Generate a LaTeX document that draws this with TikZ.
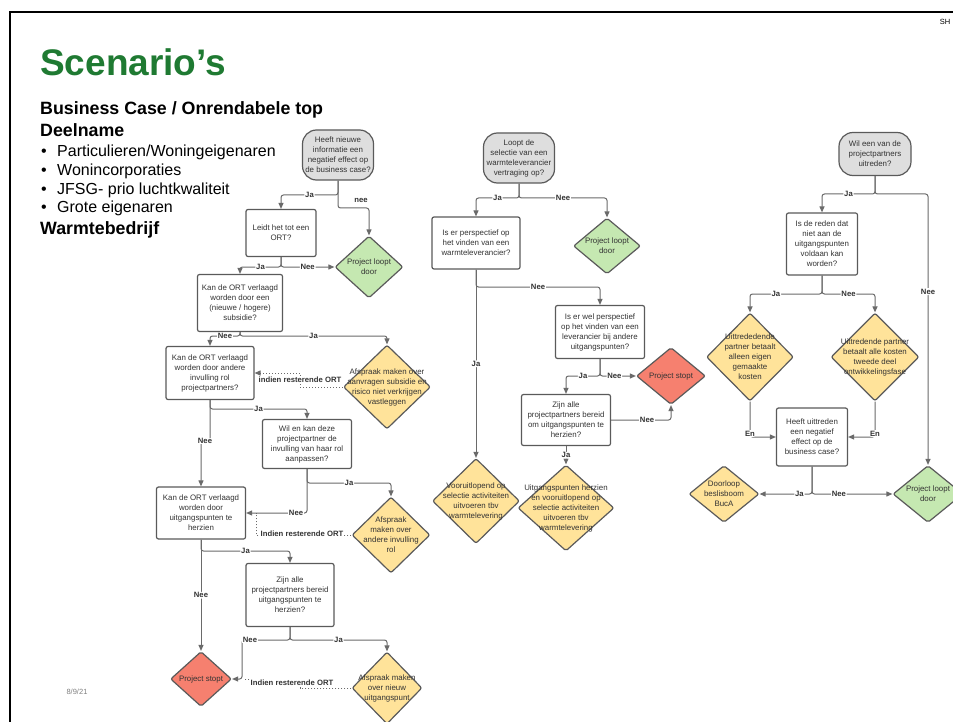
\documentclass[tikz,border=0pt]{standalone}
\usepackage{fontspec}
\setmainfont{Liberation Sans}
\usetikzlibrary{shapes.geometric,arrows.meta}
\definecolor{bcol}{HTML}{5A5A5A}
\definecolor{lcol}{HTML}{6A6A6A}
\definecolor{tcol}{HTML}{333333}
\definecolor{sgray}{HTML}{DEDEDE}
\definecolor{dgreen}{HTML}{C5E8B1}
\definecolor{dyellow}{HTML}{FFE39A}
\definecolor{dred}{HTML}{F6806F}
\definecolor{titlegreen}{HTML}{1F7A32}
\tikzset{
 ntext/.style={align=center, font=\fontsize{7.9}{10}\selectfont, text=tcol, inner sep=0pt},
 startbox/.style={ntext, draw=bcol, fill=sgray, line width=1.2pt, rounded corners=14pt},
 procbox/.style={ntext, draw=bcol, fill=white, line width=1.2pt, rounded corners=2pt},
 diashape/.style={shape=diamond, draw=bcol, line width=1.2pt, inner sep=0pt, rounded corners=2pt},
 conn/.style={draw=lcol, line width=1pt, rounded corners=2.5pt, -{Triangle[length=6pt,width=5pt]}},
 dotconn/.style={draw=lcol, line width=0.9pt, dash pattern=on 1pt off 2pt, -{Triangle[length=6pt,width=5pt]}},
 lbl/.style={font=\fontsize{7.7}{9}\selectfont\bfseries, text=tcol, fill=white, inner sep=0.8pt},
 heading/.style={anchor=base west, inner sep=0pt, font=\fontsize{17.8}{20}\selectfont\bfseries},
 bullettext/.style={anchor=base west, inner sep=0pt, font=\fontsize{16}{18}\selectfont},
}
\newcommand\mkdia[6]{\node[diashape, minimum width=#3, minimum height=#4, fill=#5] (#1) at (#2) {};
 \node[ntext] (#1t) at (#1.center) {#6};}
\begin{document}
\begin{tikzpicture}[x=1pt,y=-1pt]
\useasboundingbox (0,0) rectangle (953,722);
\fill[white] (0,0) rectangle (953,722);
% frame
\draw[line width=2.5pt] (970,12) -- (10,12) -- (10,740);
\node[font=\fontsize{7.5}{8}\selectfont] (sh) at (945,22) {SH};
\node[font=\fontsize{7.5}{9}\selectfont, text=gray] (date) at (77,692) {8/9/21};
% titles
\node[anchor=base west, inner sep=0pt, font=\fontsize{37}{40}\selectfont\bfseries, text=titlegreen] (title) at (40,76) {Scenario’s};
\node[heading] (h1) at (40,115) {Business Case / Onrendabele top};
\node[heading] (h2) at (40,137) {Deelname};
\node[bullettext] (bu1) at (41,157) {•};
\node[bullettext] (bt1) at (57,157) {Particulieren/Woningeigenaren};
\node[bullettext] (bu2) at (41,175.7) {•};
\node[bullettext] (bt2) at (57,175.7) {Wonincorporaties};
\node[bullettext] (bu3) at (41,194.3) {•};
\node[bullettext] (bt3) at (57,194.3) {JFSG- prio luchtkwaliteit};
\node[bullettext] (bu4) at (41,213) {•};
\node[bullettext] (bt4) at (57,213) {Grote eigenaren};
\node[heading] (h3) at (40,235) {Warmtebedrijf};

% ---------- left chart ----------
\node[startbox, minimum width=71, minimum height=50] (s1) at (338,155) {Heeft nieuwe\\informatie een\\negatief effect op\\de business case?};
\node[procbox, minimum width=70, minimum height=47] (b1) at (281,233) {Leidt het tot een\\ORT?};
\mkdia{g1}{369,267}{68}{62}{dgreen}{Project loopt\\door}
\node[procbox, minimum width=85, minimum height=57] (b2) at (240,303) {Kan de ORT verlaagd\\worden door een\\(nieuwe / hogere)\\subsidie?};
\mkdia{y1}{387,387}{87}{84}{dyellow}{Afspraak maken over\\aanvragen subsidie en\\risico niet verkrijgen\\vastleggen}
\node[procbox, minimum width=88, minimum height=53] (b3) at (210,373) {Kan de ORT verlaagd\\worden door andere\\invulling rol\\projectpartners?};
\node[procbox, minimum width=89, minimum height=49] (b4) at (307,444) {Wil en kan deze\\projectpartner de\\invulling van haar rol\\aanpassen?};
\node[procbox, minimum width=89, minimum height=52] (b5) at (201,513) {Kan de ORT verlaagd\\worden door\\uitgangspunten te\\herzien};
\mkdia{y2}{391,535}{78}{76}{dyellow}{Afspraak\\maken over\\andere invulling\\rol}
\node[procbox, minimum width=88, minimum height=63] (b6) at (290,595) {Zijn alle\\projectpartners bereid\\uitgangspunten te\\herzien?};
\mkdia{r1}{201,679}{61}{55}{dred}{Project stopt}
\mkdia{y3}{387,688}{70}{72}{dyellow}{Afspraak maken\\over nieuw\\uitgangspunt}

\draw[conn] (s1.south) -- (338,195) -| node[lbl,pos=.25]{Ja} (b1.north);
\draw[conn] (s1.south) -- (338,208) -| (g1.north);
\node[lbl, fill=none] (lnee) at (361,200) {nee};
\draw[conn] (b1.south) -- (281,267) -| node[lbl,pos=.25]{Ja} (b2.north);
\draw[conn] (b1.south) |- node[lbl,pos=.75]{Nee} (g1.west);
\draw[conn] (b2.south) -- (240,336) -| node[lbl,pos=.25]{Nee} (b3.north);
\draw[conn] (b2.south) -- (240,336) -| node[lbl,pos=.25]{Ja} (y1.north);
\draw[dotconn] (y1.west) -- (300,387) -- (300,373) -- (b3.east);
\node[lbl] (li1) at (300,380) {indien resterende ORT};
\draw[conn] (b3.south) -- (210,409) -| node[lbl,pos=.25]{Ja} (b4.north);
\draw[conn] (b3.south) -- (210,441) -| (b5.north);
\node[lbl] (ln3) at (205,441) {Nee};
\draw[conn] (b4.south) -- (307,483) -| node[lbl,pos=.25]{Ja} (y2.north);
\draw[conn] (b4.south) |- node[lbl,pos=.59]{Nee} (b5.east);
\draw[dotconn,-] (y2.west) -| (256,513);
\node[lbl] (li2) at (302,534) {Indien resterende ORT};
\draw[conn] (b5.south) -- (201,551) -| node[lbl,pos=.25]{Ja} (b6.north);
\draw[conn] (b5.south) -- node[lbl]{Nee} (r1.north);
\draw[conn] (b6.south) -- (290,640) -- (242,640) -- (242,679) -- (r1.east);
\node[lbl] (ln6) at (250,640) {Nee};
\draw[conn] (b6.south) -- (290,640) -| node[lbl,pos=.25]{Ja} (y3.north);
\draw[dotconn,-] (y3.west) -- (300,688) -- (300,679) -- (244,679);
\node[lbl] (li3) at (292,683) {Indien resterende ORT};

% ---------- middle chart ----------
\node[startbox, minimum width=71, minimum height=50] (s2) at (519,158) {Loopt de\\selectie van een\\warmteleverancier\\vertraging op?};
\node[procbox, minimum width=88, minimum height=52] (b7) at (476,243) {Is er perspectief op\\het vinden van een\\warmteleverancier?};
\mkdia{g2}{607,246}{67}{56}{dgreen}{Project loopt\\door}
\node[procbox, minimum width=89, minimum height=53] (b8) at (600,332) {Is er wel perspectief\\op het vinden van een\\leverancier bij andere\\uitgangspunten?};
\mkdia{r2}{671,376}{69}{57}{dred}{Project stopt}
\node[procbox, minimum width=89, minimum height=51] (b9) at (566,420) {Zijn alle\\projectpartners bereid\\om uitgangspunten te\\herzien?};
\mkdia{y4}{476,501}{87}{85}{dyellow}{Vooruitlopend op\\selectie activiteiten\\uitvoeren tbv\\warmtelevering}
\mkdia{y5}{566,508}{96}{86}{dyellow}{Uitgangspunten herzien\\en vooruitlopend op\\selectie activiteiten\\uitvoeren tbv\\warmtelevering}

\draw[conn] (s2.south) -- (519,198) -| node[lbl,pos=.25]{Ja} (b7.north);
\draw[conn] (s2.south) -- (519,198) -| node[lbl,pos=.25]{Nee} (g2.north);
\draw[conn] (b7.south) -- (476,287) -| node[lbl,pos=.25]{Nee} (b8.north);
\draw[conn] (b7.south) -- node[lbl]{Ja} (y4.north);
\draw[conn] (b8.south) -- (600,376) -| node[lbl,pos=.25]{Ja} (b9.north);
\draw[conn] (b8.south) |- node[lbl,pos=.7]{Nee} (r2.west);
\draw[conn] (b9.east) -| node[lbl,pos=.3]{Nee} (r2.south);
\draw[conn] (b9.south) -- node[lbl]{Ja} (y5.north);

% ---------- right chart ----------
\node[startbox, minimum width=72, minimum height=43] (s3) at (875,154) {Wil een van de\\projectpartners\\uitreden?};
\node[procbox, minimum width=71, minimum height=62] (b10) at (822,244) {Is de reden dat\\niet aan de\\uitgangspunten\\voldaan kan\\worden?};
\mkdia{y6}{750,357}{87}{88}{dyellow}{Uittrededende\\partner betaalt\\alleen eigen\\gemaakte\\kosten}
\mkdia{y7}{875,357}{88}{88}{dyellow}{Uittredende partner\\betaalt alle kosten\\tweede deel\\ontwikkelingsfase}
\node[procbox, minimum width=71, minimum height=58] (b11) at (812,437) {Heeft uittreden\\een negatief\\effect op de\\business case?};
\mkdia{y8}{724,494}{70}{57}{dyellow}{Doorloop\\beslisboom\\BucA}
\mkdia{g3}{928,494}{70}{57}{dgreen}{Project loopt\\door}

\draw[conn] (s3.south) -- (875,194) -| node[lbl,pos=.25]{Ja} (b10.north);
\draw[conn] (s3.south) -- (875,194) -| node[lbl,pos=.68]{Nee} (g3.north);
\draw[conn] (b10.south) -- (822,294) -| node[lbl,pos=.32]{Ja} (y6.north);
\draw[conn] (b10.south) -- (822,294) -| node[lbl,pos=.25]{Nee} (y7.north);
\draw[conn] (y6.south) |- node[lbl,pos=.45]{En} (b11.west);
\draw[conn] (y7.south) |- node[lbl,pos=.45]{En} (b11.east);
\draw[conn] (b11.south) |- node[lbl,pos=.62]{Ja} (y8.east);
\draw[conn] (b11.south) |- node[lbl,pos=.667]{Nee} (g3.west);
\end{tikzpicture}
\end{document}
